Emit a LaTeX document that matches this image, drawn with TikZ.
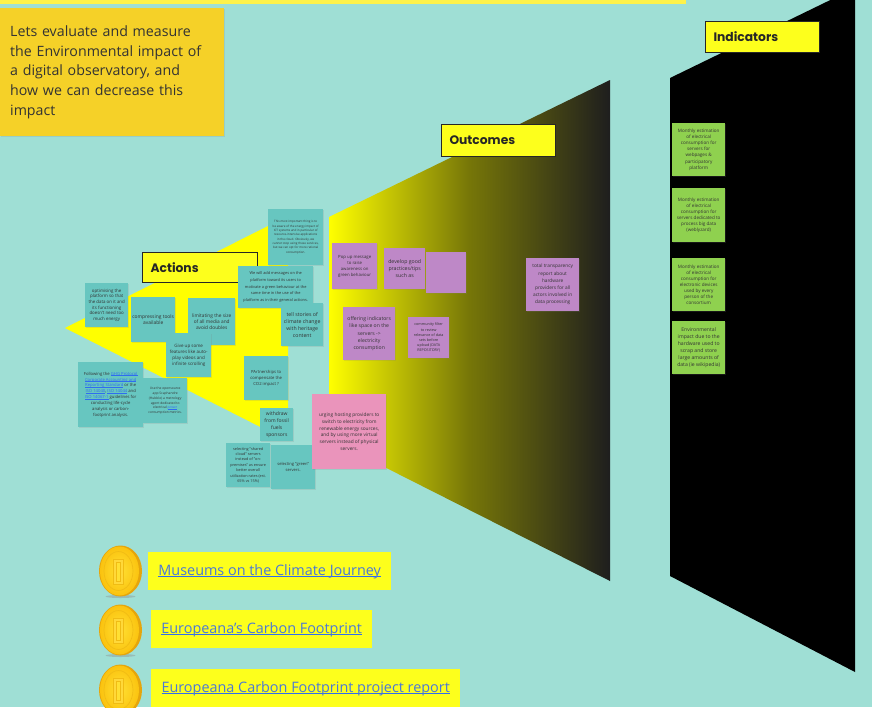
\documentclass[tikz,border=0pt]{standalone}
\usepackage{fontspec}
\setmainfont{Open Sans}
\newfontfamily\headfont{Poppins}
\usetikzlibrary{shadows}
\definecolor{bgc}{HTML}{9FDFD5}
\definecolor{yel}{HTML}{FFFF00}
\definecolor{labely}{HTML}{FDFF1C}
\definecolor{topbar}{HTML}{FEF24A}
\definecolor{orangec}{HTML}{F5D128}
\definecolor{tealc}{HTML}{67C6C0}
\definecolor{pinkc}{HTML}{EA94BB}
\definecolor{purplec}{HTML}{BE88C7}
\definecolor{greenc}{HTML}{8FD14F}
\definecolor{ink}{HTML}{333333}
\definecolor{linkc}{HTML}{2F6CF0}
\definecolor{linkt}{HTML}{4A78D8}
\definecolor{gradmid}{HTML}{767608}
\definecolor{gradend}{HTML}{1E1E1E}
\definecolor{coinedge}{HTML}{E5A50C}
\definecolor{coinin}{HTML}{FFE033}
\definecolor{coinout}{HTML}{FBC30F}
\definecolor{coinring}{HTML}{F0BC14}
\definecolor{coinpale}{HTML}{FFD83A}
\newsavebox{\ulbox}
\newcommand{\ulc}[2]{\sbox{\ulbox}{#2}\leavevmode\rlap{\color{#1}\rule[-.13em]{\wd\ulbox}{.08em}}\usebox{\ulbox}}
\newcommand{\lnk}[1]{{\color{linkc}\ulc{linkc}{#1}}}
\newcommand{\bl}[1]{{\color{linkt}\ulc{linkc}{#1}}}
\tikzset{
  x=1pt,y=-1pt,
  wh/.style 2 args={minimum width=#1pt,minimum height=#2pt},
  tx/.style 2 args={font=\fontsize{#1}{#2}\selectfont},
  note/.style={rectangle,anchor=north west,inner sep=0pt,align=center,text=ink,
    drop shadow={opacity=.18,shadow xshift=.6pt,shadow yshift=-.6pt}},
  teal/.style={note,fill=tealc},
  pinkn/.style={note,fill=pinkc},
  purple/.style={note,fill=purplec},
  green/.style={note,fill=greenc},
  heading/.style={rectangle,anchor=north west,draw=black!85,line width=1pt,fill=labely,
    inner sep=0pt,inner xsep=8pt,text=black!85,
    font=\headfont\bfseries\fontsize{12.3}{15}\selectfont},
  linkbox/.style={rectangle,anchor=north west,fill=labely,inner sep=0pt,
    text height=11pt,text depth=3pt,text=linkt,font=\fontsize{14.4}{18}\selectfont},
  pics/coin/.style={code={
    \fill[black!45,opacity=.4] (0,25.5) ellipse (15 and 1.5);
    \fill[coinedge] (0,0) ellipse (21.5 and 25.5);
    \shade[inner color=coinin,outer color=coinout] (-1,0) ellipse (19.5 and 24.5);
    \draw[coinring,line width=.7pt] (-2,0) ellipse (14.5 and 19.5);
    \draw[coinring,line width=.5pt,fill=coinpale] (-7.5,-12) rectangle (2.5,13.5);
    \draw[coinring,line width=.5pt,fill=coinin] (-4.5,-9) rectangle (-.5,10.5);
  }}
}
\begin{document}
\begin{tikzpicture}
\clip (0,0) rectangle (872,707);
\fill[bgc] (0,0) rectangle (872,707);
\fill[topbar] (0,0) rectangle (686,4);
% funnel shapes
\fill[yel] (65,328) -- (288,216) -- (288,441) -- cycle;
\shade[left color=yel,right color=gradend,middle color=gradmid] (329,217) -- (610,80) -- (610,581) -- (329,439) -- cycle;
\fill[black] (670,78) -- (855,-12) -- (855,672) -- (670,576) -- cycle;
% intro
\node[note,fill=orangec,wh={224}{128},text width=204pt,align=left,inner xsep=10pt,tx={14.2}{19.8}] (intro) at (0,8)
 {Lets evaluate and measure\\the Environmental impact of\\a digital observatory, and\\how we can decrease this\\impact};
% headings
\node[heading,wh={115}{30},text width=99pt] (actions) at (142,252) {Actions};
\node[heading,wh={114}{32},text width=98pt] (outcomes) at (441,124) {Outcomes};
\node[heading,wh={114}{31},text width=98pt] (indicators) at (705,21) {Indicators};
% teal notes
\node[teal,wh={43}{44},tx={4.4}{5.6}] (n1) at (85,283) {optimising the\\platform so that\\the data on it and\\its functioning\\doesn't need too\\much energy};
\node[teal,wh={44}{45},tx={4.9}{5.8}] (n2) at (131,297) {compressing tools\\available};
\node[teal,wh={47}{47},tx={4.8}{6.2}] (n3) at (188,298) {limitating the size\\of all media and\\avoid doubles};
\node[teal,wh={45}{44},tx={4.5}{6}] (n4) at (166,333) {Give up some\\features like auto-\\play videos and\\infinite scrolling};
\node[teal,wh={65}{65},tx={4.2}{5.9}] (n5) at (78,362) {Following the \lnk{GHG Protocol}\\\lnk{Corporate Accounting and}\\\lnk{Reporting Standard} or the\\\lnk{ISO 14040}, \lnk{ISO 14044} and\\\lnk{ISO 14067-1} guidelines for\\conducting life-cycle\\analysis or carbon-\\footprint analysis.};
\node[teal,wh={44}{45},tx={3.3}{4.9}] (n6) at (143,378) {Use the opensource\\app Scaphandre\\(Hubblo) a metrology\\agent dedicated to\\electrical \lnk{power}\\consumption metrics.};
\node[teal,wh={55}{56},tx={3}{4.3}] (n7) at (268,209) {This most important thing is to\\be aware of the energy impact of\\ICT systems and in particular of\\resource-intensive applications\\in the cloud. Obviously, we\\cannot stop using these services,\\but we can opt for more rational\\consumption.};
\node[teal,wh={75}{42},tx={3.9}{6.7}] (n8) at (238,266) {We will add messages on the\\platform toward its users to\\motivate a green behaviour at the\\same time in the use of the\\platform as in their general actions.};
\node[teal,wh={42}{43},tx={5.2}{7}] (n9) at (281,303) {tell stories of\\climate change\\with heritage\\content};
\node[teal,wh={44}{44},tx={4.2}{6}] (n10) at (244,356) {PArtnerships to\\compensate the\\CO2 impact ?};
\node[teal,wh={33}{33},tx={5}{7.2}] (n11) at (260,408) {withdraw\\from fossil\\fuels\\sponsors};
\node[teal,wh={44}{44},tx={3.8}{5.4}] (n12) at (226,443) {selecting "shared\\cloud" servers\\instead of "on-\\premises" as ensure\\better overall\\utilization rates (est.\\65\% vs 15\%)};
\node[teal,wh={44}{44},tx={4.1}{6}] (n13) at (271,445) {selecting "green"\\servers.};
\node[pinkn,wh={74}{75},tx={4.8}{6.9}] (n14) at (312,394) {urging hosting providers to\\switch to electricity from\\renewable energy sources,\\and by using more virtual\\servers instead of physical\\servers.};
% purple notes
\node[purple,wh={45}{46},tx={4.3}{6}] (p1) at (332,243) {Pop up message\\to raise\\awareness on\\green behaviour};
\node[purple,wh={41}{41},tx={5.2}{7}] (p2) at (384,248) {develop good\\practices/tips\\such as};
\node[purple,wh={40}{41}] (p3) at (426,252) {};
\node[purple,wh={52}{53},tx={5.1}{7.3}] (p4) at (343,307) {offering indicators\\like space on the\\servers ->\\electricity\\consumption};
\node[purple,wh={41}{41},tx={3.7}{5.2}] (p5) at (408,317) {community filter\\to review\\relevance of data\\sets before\\upload (DATA\\REPOSITORY)};
\node[purple,wh={53}{53},tx={4.8}{7.2}] (p6) at (526,258) {total transparency\\report about\\hardware\\providers for all\\actors involved in\\data processing};
% green notes
\node[green,wh={53}{53},tx={4.6}{6.1}] (g1) at (672,123) {Monthly estimation\\of electrical\\consumption for\\servers for\\webpages \&\\participatory\\platform};
\node[green,wh={53}{54},tx={4.6}{6.1}] (g2) at (672,188) {Monthly estimation\\of electrical\\consumption for\\servers dedicated to\\process big data\\(weblyzard)};
\node[green,wh={53}{53},tx={4.6}{6.1}] (g3) at (672,258) {Monthly estimation\\of electrical\\consumption for\\electronic devices\\used by every\\person of the\\consortium};
\node[green,wh={53}{53},tx={5.1}{7.1}] (g4) at (672,321) {Environmental\\impact due to the\\hardware used to\\scrap and store\\large amounts of\\data (ie wikipedia)};
% links
\node[linkbox,wh={243}{38}] (l1) at (148,552) {\bl{Museums on the Climate Journey}};
\node[linkbox,wh={221}{38}] (l2) at (151,610) {\bl{Europeana’s Carbon Footprint}};
\node[linkbox,wh={309}{38}] (l3) at (151,669) {\bl{Europeana Carbon Footprint project report}};
% coins
\pic at (120.5,571) {coin};
\pic at (120.5,630) {coin};
\pic at (120.5,690) {coin};
\end{tikzpicture}
\end{document}
